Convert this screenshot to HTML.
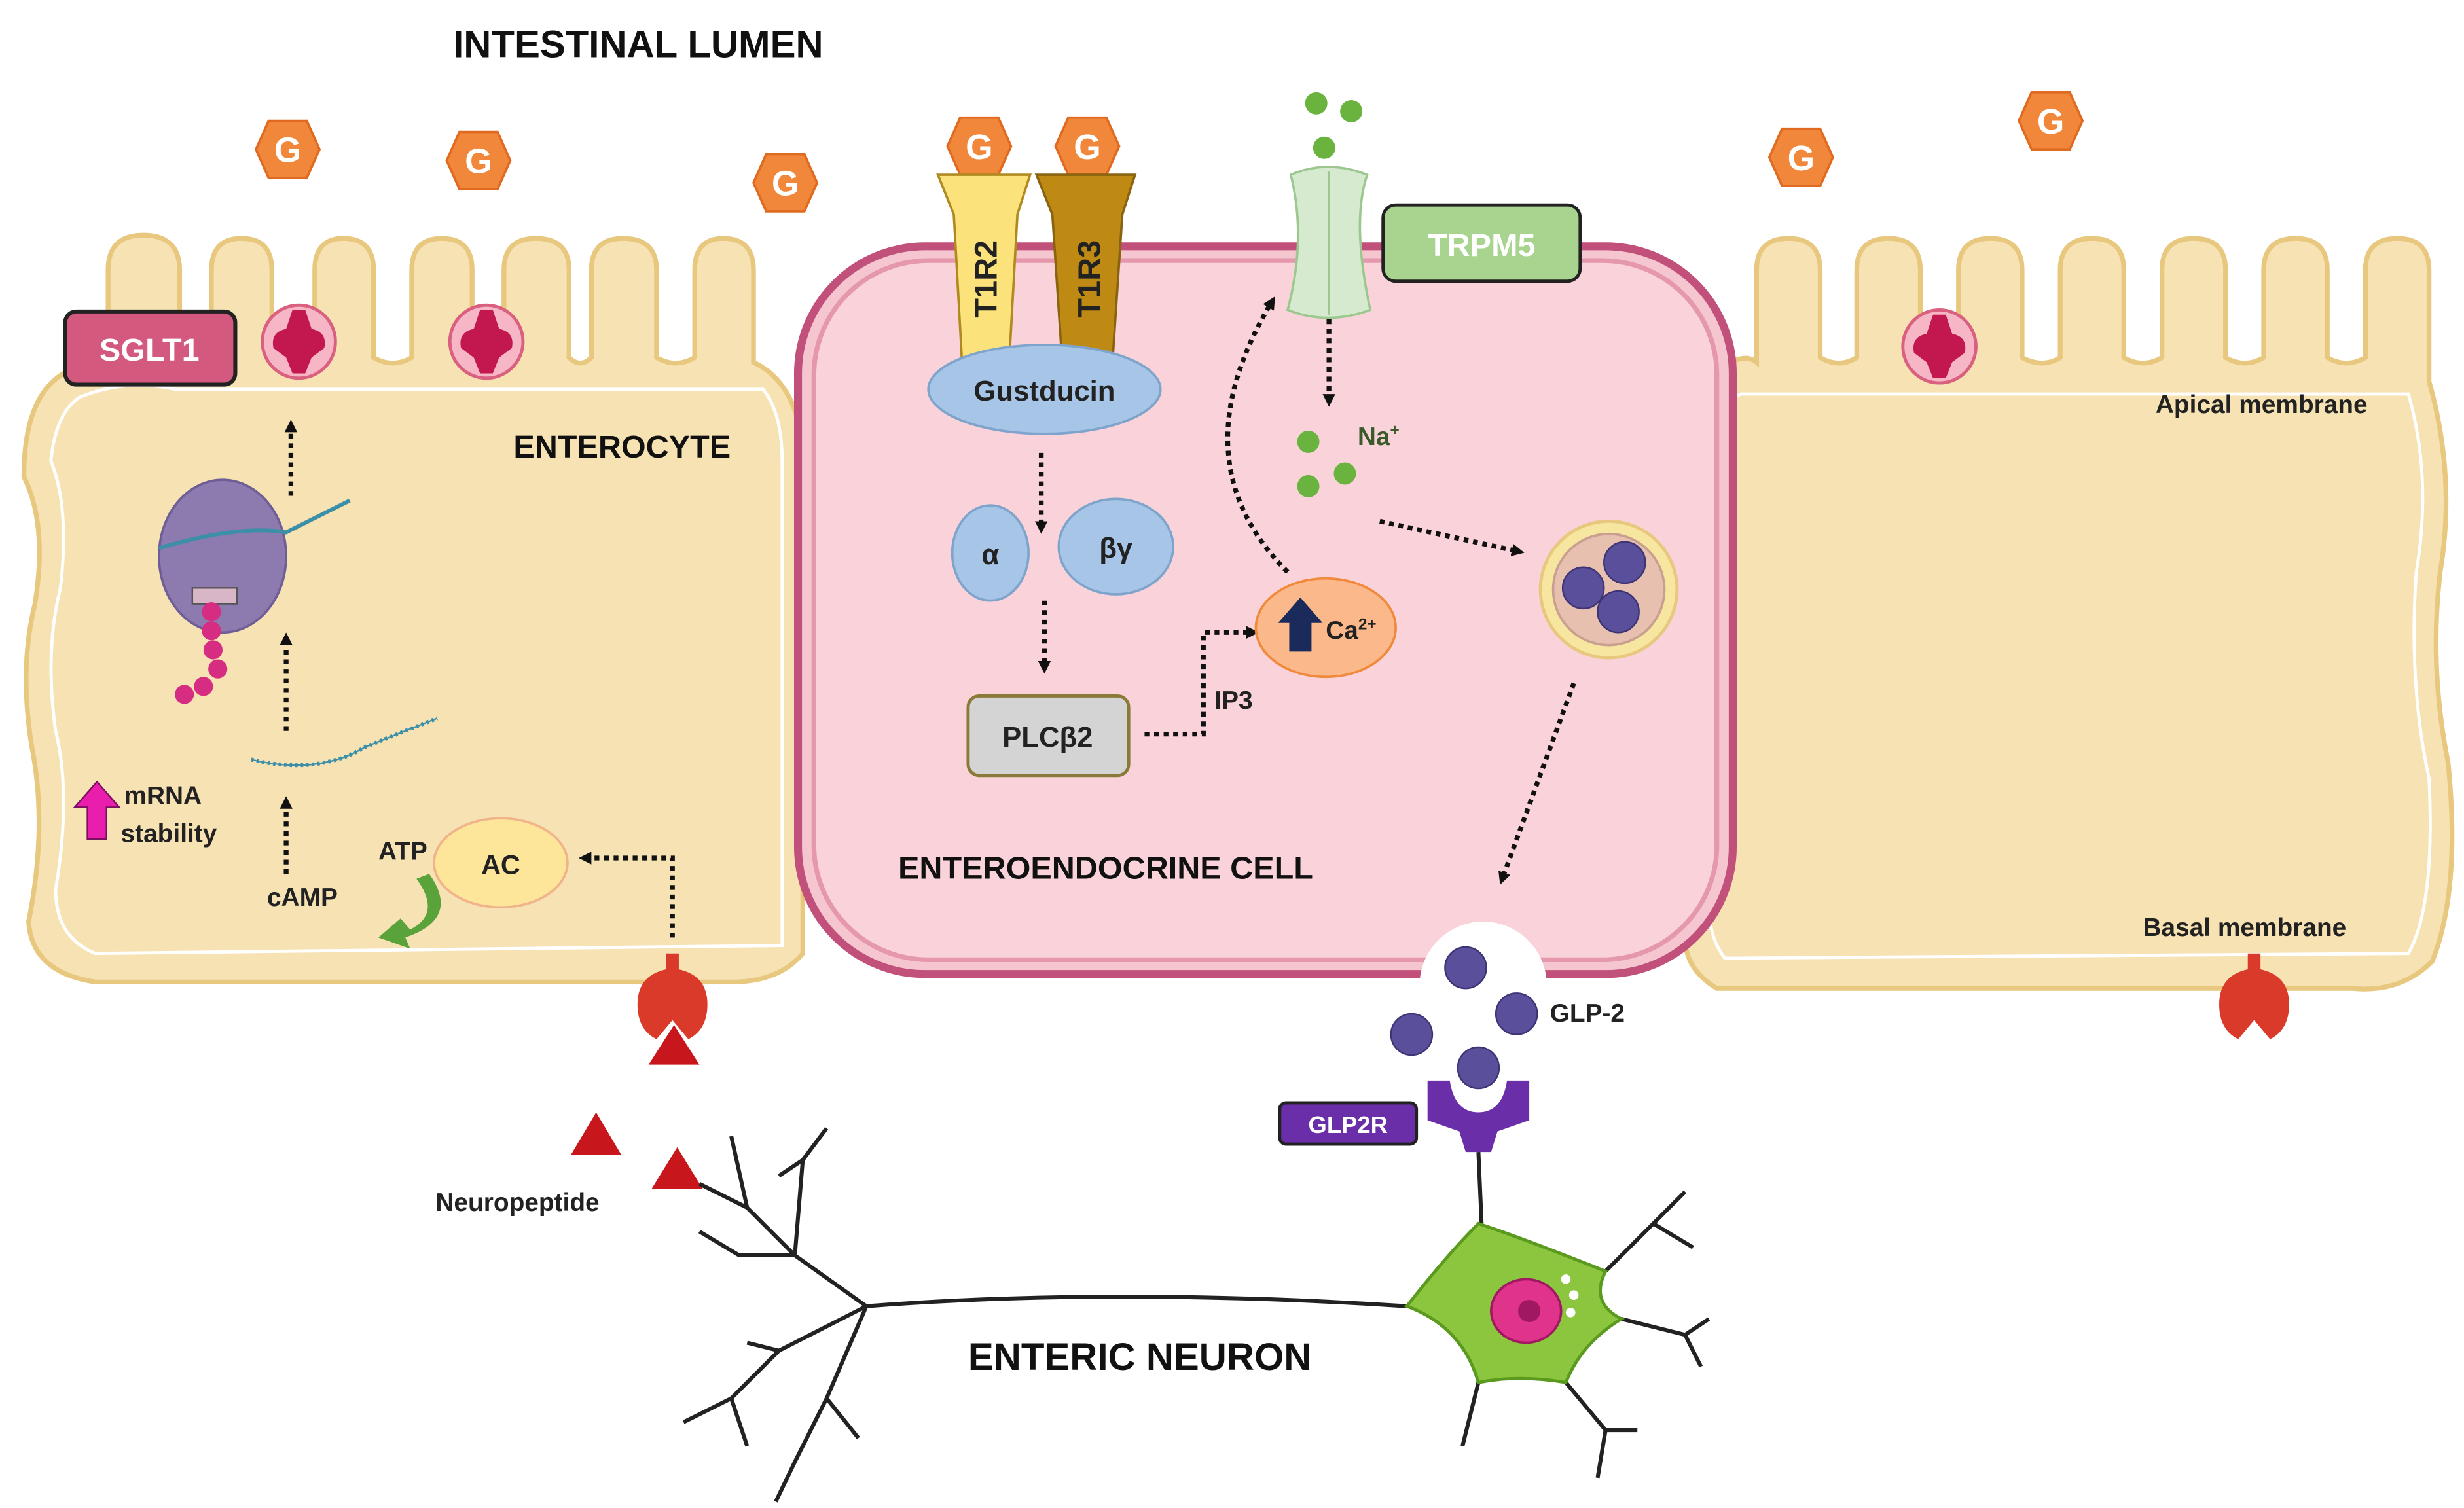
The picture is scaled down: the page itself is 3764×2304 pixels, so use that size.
<!DOCTYPE html>
<html><head><meta charset="utf-8"><style>
html,body{margin:0;padding:0;background:#fff;}
svg{display:block;}
text{font-family:"Liberation Sans",sans-serif;font-weight:bold;}
</style></head><body>
<svg width="3764" height="2304" viewBox="0 0 1550 949" preserveAspectRatio="none" xmlns="http://www.w3.org/2000/svg">
<defs>
<marker id="ah" markerWidth="8" markerHeight="8" refX="4" refY="4" orient="auto" markerUnits="userSpaceOnUse"><path d="M0,0 L8,4 L0,8 z" fill="#111"/></marker>
<g id="hex"><polygon points="-12,-18 12,-18 20,0 12,18 -12,18 -20,0" fill="#f0873a" stroke="#e06a1f" stroke-width="1.5"/><text x="0" y="8" font-size="22" fill="#fff" text-anchor="middle">G</text></g>
<g id="sglt"><circle r="23" fill="#f6b6c6" stroke="#d9607f" stroke-width="2"/><path d="M-16,4 Q-18,-6 -8,-8 L-4,-20 L4,-20 L8,-8 Q18,-6 16,4 L8,10 L4,20 L-4,20 L-8,10 Z" fill="#c2184f"/></g>
<g id="rec"><path d="M-4,-30 L4,-30 L4,-20 Q22,-16 22,2 Q22,18 10,24 L0,12 L-10,24 Q-22,18 -22,2 Q-22,-16 -4,-20 Z" fill="#d93a2a"/></g>
</defs>
<rect width="1550" height="949" fill="#fff"/>
<text x="285" y="36" font-size="24" fill="#111">INTESTINAL LUMEN</text>

<path d="M40,235 Q60,222 68,228 L68,170 Q68,148 90,148 Q113,148 113,170 L113,225 Q123,232 133,225 L133,170 Q133,150 152,150 Q171,150 171,170 L171,225 Q185,232 198,225 L198,170 Q198,150 216,150 Q235,150 235,170 L235,225 Q247,232 259,225 L259,170 Q259,150 278,150 Q297,150 297,170 L297,225 Q307,232 317,225 L317,170 Q317,150 337,150 Q358,150 358,170 L358,225 Q365,232 372,225 L372,170 Q372,150 392,150 Q413,150 413,170 L413,225 Q425,232 437,225 L437,170 Q437,150 455,150 Q474,150 474,170 L474,228 Q500,240 505,280 L505,600 Q490,618 460,618 L60,618 Q20,612 18,580 Q30,520 20,470 Q12,420 22,380 Q30,330 15,300 Q15,250 40,235 Z" fill="#f6e2b3" stroke="#e8c77e" stroke-width="3"/>
<path d="M50,250 Q80,238 110,245 L480,245 Q492,260 492,290 L492,595 L60,600 Q35,590 35,560 Q45,500 35,460 Q28,410 38,370 Q44,320 32,290 Q35,260 50,250Z" fill="none" stroke="#fff" stroke-width="2"/>

<path d="M1085,230 Q1098,222 1105,228 L1105,170 Q1105,150 1125,150 Q1145,150 1145,170 L1145,225 Q1157,232 1168,225 L1168,170 Q1168,150 1188,150 Q1208,150 1208,170 L1208,225 Q1220,232 1232,225 L1232,170 Q1232,150 1252,150 Q1272,150 1272,170 L1272,225 Q1285,232 1296,225 L1296,170 Q1296,150 1316,150 Q1336,150 1336,170 L1336,225 Q1348,232 1360,225 L1360,170 Q1360,150 1380,150 Q1400,150 1400,170 L1400,225 Q1412,232 1424,225 L1424,170 Q1424,150 1444,150 Q1464,150 1464,170 L1464,225 Q1476,232 1488,225 L1488,170 Q1488,150 1508,150 Q1528,150 1528,170 L1528,240 Q1545,300 1535,360 Q1528,420 1540,480 Q1548,560 1530,605 Q1510,625 1480,622 L1080,622 Q1060,610 1060,590 L1060,270 Q1065,240 1085,230Z" fill="#f6e2b3" stroke="#e8c77e" stroke-width="3"/>
<path d="M1095,248 L1515,248 Q1530,300 1520,360 Q1515,430 1528,490 Q1532,570 1515,600 L1085,603 Q1075,590 1075,570 L1075,280 Q1078,255 1095,248Z" fill="none" stroke="#fff" stroke-width="2"/>

<rect x="502" y="155" width="588" height="458" rx="80" fill="#f5c6cf" stroke="#c1507a" stroke-width="5"/>
<rect x="512" y="164" width="568" height="440" rx="72" fill="#fad3da" stroke="#e597ac" stroke-width="3"/>

<use href="#hex" x="181" y="94"/><use href="#hex" x="301" y="101"/><use href="#hex" x="494" y="115"/>
<use href="#hex" x="616" y="92"/><use href="#hex" x="684" y="92"/>
<use href="#hex" x="1133" y="99"/><use href="#hex" x="1290" y="76"/>

<rect x="41" y="196" width="107" height="46" rx="7" fill="#d35a7e" stroke="#222" stroke-width="2.5"/>
<text x="94" y="227" font-size="20" fill="#fff" text-anchor="middle">SGLT1</text>
<use href="#sglt" x="188" y="215"/><use href="#sglt" x="306" y="215"/><use href="#sglt" x="1220" y="218"/>
<text x="323" y="288" font-size="20" fill="#111">ENTEROCYTE</text>

<ellipse cx="140" cy="350" rx="40" ry="48" fill="#8d7bb0" stroke="#6f5e96" stroke-width="1.5"/>
<path d="M100,345 Q150,330 180,335 Q200,325 220,315" fill="none" stroke="#3d8fa8" stroke-width="2.5"/>
<rect x="121" y="370" width="28" height="10" fill="#d9b5c8" stroke="#555" stroke-width="1"/>
<g fill="#d62d83"><circle cx="133" cy="385" r="6"/><circle cx="133" cy="397" r="6"/><circle cx="134" cy="409" r="6"/><circle cx="137" cy="421" r="6"/><circle cx="128" cy="432" r="6"/><circle cx="116" cy="437" r="6"/></g>
<path d="M158,478 Q200,488 230,470 Q255,460 275,452" fill="none" stroke="#3d8fa8" stroke-width="2.5" stroke-dasharray="1.5 2"/>
<path d="M158,478 Q200,488 230,470 Q255,460 275,452" fill="none" stroke="#3d8fa8" stroke-width="1"/>

<g stroke="#111" stroke-width="3" stroke-dasharray="3 3" fill="none" marker-end="url(#ah)">
<line x1="183" y1="312" x2="183" y2="268"/>
<line x1="180" y1="460" x2="180" y2="402"/>
<line x1="180" y1="550" x2="180" y2="505"/>
<path d="M423,590 L423,540 L368,540"/>
<line x1="655" y1="285" x2="655" y2="332"/>
<line x1="657" y1="378" x2="657" y2="420"/>
<path d="M720,462 L757,462 L757,398 L788,398"/>
<path d="M810,360 Q740,290 800,190"/>
<line x1="836" y1="165" x2="836" y2="252"/>
<line x1="868" y1="328" x2="955" y2="347"/>
<line x1="990" y1="430" x2="945" y2="553"/>
</g>

<path d="M55,528 L55,508 L47,508 L61,492 L75,508 L67,508 L67,528Z" fill="#e91eac" stroke="#7a1060" stroke-width="1"/>
<text x="78" y="506" font-size="16" fill="#222">mRNA</text>
<text x="76" y="530" font-size="16" fill="#222">stability</text>
<text x="168" y="570" font-size="16" fill="#222">cAMP</text>
<text x="238" y="541" font-size="16" fill="#222">ATP</text>
<ellipse cx="315" cy="543" rx="42" ry="28" fill="#fde59a" stroke="#f0b38a" stroke-width="1.5"/>
<text x="315" y="550" font-size="17" fill="#222" text-anchor="middle">AC</text>
<path d="M262,553 Q278,575 258,585 L252,578 L238,590 L258,597 L255,590 Q290,578 270,550Z" fill="#5aa33a"/>

<use href="#rec" x="423" y="630"/><use href="#rec" x="1418" y="630"/>
<g fill="#c8171c"><polygon points="424,645 440,670 408,670"/><polygon points="375,700 391,727 359,727"/><polygon points="426,722 442,748 410,748"/></g>
<text x="274" y="762" font-size="16" fill="#222">Neuropeptide</text>

<path d="M590,110 L648,110 L640,135 L635,225 L605,225 L600,135Z" fill="#fbe27b" stroke="#b08a20" stroke-width="1.5"/>
<path d="M652,110 L714,110 L706,135 L700,225 L668,225 L662,135Z" fill="#bf8a14" stroke="#8a6310" stroke-width="1.5"/>
<text transform="translate(627,200) rotate(-90)" font-size="20" fill="#222">T1R2</text>
<text transform="translate(692,200) rotate(-90)" font-size="20" fill="#222">T1R3</text>
<ellipse cx="657" cy="245" rx="73" ry="28" fill="#a7c5e6" stroke="#7fa4cc" stroke-width="1.5"/>
<text x="657" y="252" font-size="18" fill="#222" text-anchor="middle">Gustducin</text>
<ellipse cx="623" cy="348" rx="24" ry="30" fill="#a7c5e6" stroke="#7fa4cc" stroke-width="1.5"/>
<text x="623" y="355" font-size="18" fill="#222" text-anchor="middle">α</text>
<ellipse cx="702" cy="344" rx="36" ry="30" fill="#a7c5e6" stroke="#7fa4cc" stroke-width="1.5"/>
<text x="702" y="351" font-size="18" fill="#222" text-anchor="middle">βγ</text>
<rect x="609" y="438" width="101" height="50" rx="7" fill="#d4d4d4" stroke="#8a7a3a" stroke-width="2"/>
<text x="659" y="470" font-size="18" fill="#222" text-anchor="middle">PLCβ2</text>
<text x="764" y="446" font-size="16" fill="#222">IP3</text>
<ellipse cx="834" cy="395" rx="44" ry="31" fill="#fbb88a" stroke="#f08a3c" stroke-width="1.5"/>
<path d="M811,410 L811,392 L804,392 L818,376 L832,392 L825,392 L825,410Z" fill="#1a2a5a"/>
<text x="834" y="402" font-size="16" fill="#222">Ca<tspan font-size="10" dy="-6">2+</tspan></text>

<path d="M812,110 Q835,100 860,110 Q850,140 862,195 Q835,205 810,195 Q822,150 812,110Z" fill="#d6ead0" stroke="#9cc890" stroke-width="1.5"/>
<line x1="836" y1="108" x2="836" y2="198" stroke="#9cc890" stroke-width="1.5"/>
<g fill="#6ab33e"><circle cx="828" cy="65" r="7"/><circle cx="850" cy="70" r="7"/><circle cx="833" cy="93" r="7"/><circle cx="823" cy="278" r="7"/><circle cx="846" cy="298" r="7"/><circle cx="823" cy="306" r="7"/></g>
<rect x="870" y="129" width="124" height="48" rx="8" fill="#a8d490" stroke="#222" stroke-width="2"/>
<text x="932" y="161" font-size="20" fill="#fff" text-anchor="middle">TRPM5</text>
<text x="854" y="280" font-size="16" fill="#3a5a2a">Na<tspan font-size="10" dy="-6">+</tspan></text>

<circle cx="1012" cy="371" r="43" fill="#f7e6a0" stroke="#e8c77e" stroke-width="2"/>
<circle cx="1012" cy="371" r="35" fill="#e8c0b0" stroke="#c9a090" stroke-width="1.5"/>
<g fill="#5a4f9a" stroke="#3d3475"><circle cx="1022" cy="354" r="13"/><circle cx="996" cy="370" r="13"/><circle cx="1018" cy="385" r="13"/></g>

<text x="565" y="553" font-size="20" fill="#111">ENTEROENDOCRINE CELL</text>
<text x="1356" y="260" font-size="16" fill="#222">Apical membrane</text>
<text x="1348" y="589" font-size="16" fill="#222">Basal membrane</text>

<circle cx="933" cy="620" r="40" fill="#fff"/>
<g fill="#5a4f9a" stroke="#3d3475"><circle cx="922" cy="609" r="13"/><circle cx="954" cy="638" r="13"/><circle cx="888" cy="651" r="13"/><circle cx="930" cy="672" r="13"/></g>
<text x="975" y="643" font-size="16" fill="#222">GLP-2</text>
<path d="M898,680 L912,680 Q915,700 930,700 Q945,700 948,680 L962,680 L962,705 L942,712 L938,725 L922,725 L918,712 L898,705Z" fill="#6a2fa8"/>
<rect x="805" y="694" width="86" height="26" rx="4" fill="#6a2fa8" stroke="#222" stroke-width="2"/>
<text x="848" y="713" font-size="15" fill="#fff" text-anchor="middle">GLP2R</text>

<g fill="none" stroke="#222" stroke-width="2.5">
<path d="M545,822 Q700,810 885,822"/>
<path d="M545,822 L500,790 L470,760 L460,715 M470,760 L440,745 M500,790 L465,790 L440,775 M545,822 L490,850 L460,880 L430,895 M490,850 L470,845 M460,880 L470,910 M545,822 L520,880 L500,920 L488,945 M520,880 L540,905"/>
<path d="M500,790 L505,730 L520,710 M505,730 L490,740"/>
<path d="M932,770 L930,725 M1010,800 L1040,770 L1060,750 M1040,770 L1065,785 M1020,830 L1060,840 L1075,830 M1060,840 L1070,860 M985,870 L1010,900 L1030,900 M1010,900 L1005,930 M930,870 L920,910"/>
</g>
<path d="M885,822 Q910,790 930,770 Q960,780 1010,800 Q1000,820 1020,830 Q995,845 985,870 Q955,865 930,870 Q920,835 885,822Z" fill="#8cc63f" stroke="#5a9a1e" stroke-width="2"/>
<ellipse cx="960" cy="825" rx="22" ry="20" fill="#e0338c" stroke="#a01860" stroke-width="1.5"/>
<circle cx="962" cy="825" r="7" fill="#a01860"/>
<g fill="#fff"><circle cx="985" cy="805" r="3"/><circle cx="990" cy="815" r="3"/><circle cx="988" cy="826" r="3"/></g>
<text x="609" y="862" font-size="24" fill="#111">ENTERIC NEURON</text>
</svg>
</body></html>
